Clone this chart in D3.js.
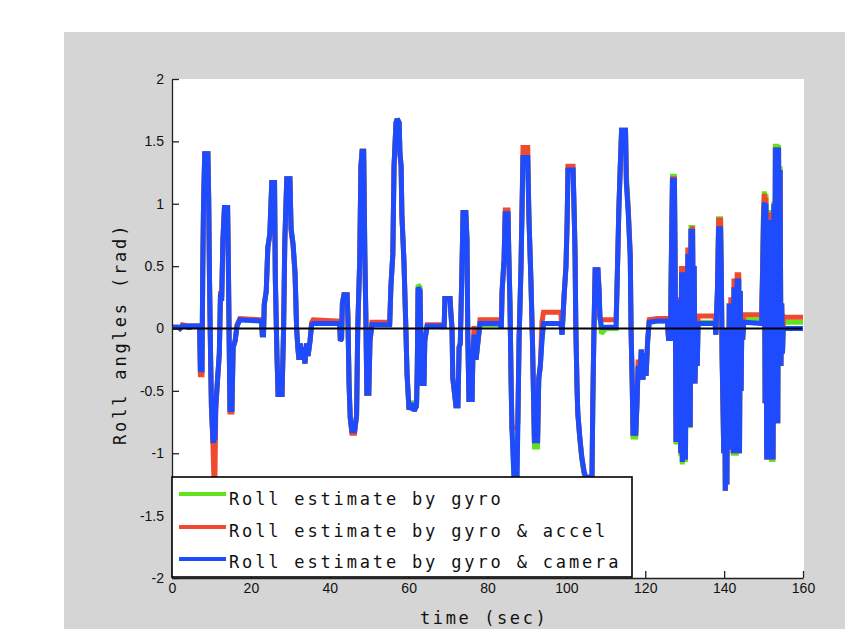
<!DOCTYPE html>
<html>
<head>
<meta charset="utf-8">
<script src="https://cdn.jsdelivr.net/npm/d3@7"></script>
<style>
  html, body { margin: 0; padding: 0; background: #ffffff; }
  svg { display: block; }
</style>
</head>
<body>
<svg id="chart" width="845" height="629"></svg>
<script>
// ---- data -------------------------------------------------------------
const timeSec = [
  0.0, 1.5, 2.0, 2.6, 4.0, 4.3, 4.8, 7.0, 7.2, 7.6,
  7.8, 8.0, 8.3, 9.1, 9.3, 9.5, 9.8, 10.0, 10.4, 10.6,
  10.9, 11.1, 11.6, 12.0, 12.3, 12.6, 12.9, 13.3, 14.1, 14.3,
  14.5, 14.7, 15.2, 15.5, 16.0, 16.5, 17.2, 22.7, 22.9, 23.2,
  23.4, 23.9, 24.3, 24.8, 25.3, 26.0, 26.2, 26.6, 26.9, 27.9,
  28.3, 28.6, 29.1, 29.9, 30.2, 30.7, 31.2, 31.6, 31.9, 32.2,
  32.5, 32.9, 33.3, 33.7, 34.1, 34.5, 35.0, 35.4, 35.8, 42.5,
  42.7, 43.0, 43.2, 43.6, 44.4, 44.6, 44.9, 45.2, 45.6, 46.3,
  46.8, 47.1, 47.6, 47.9, 48.2, 48.6, 48.9, 49.2, 49.4, 49.9,
  50.2, 50.7, 55.2, 55.5, 56.0, 56.3, 56.8, 57.1, 57.6, 57.8,
  58.1, 58.3, 58.8, 59.3, 59.6, 60.1, 60.8, 61.4, 62.0, 62.2,
  62.4, 62.9, 63.1, 63.4, 63.9, 64.1, 64.7, 68.7, 69.0, 69.2,
  70.5, 70.7, 71.0, 71.2, 72.0, 72.5, 72.8, 73.1, 73.5, 73.8,
  74.5, 74.8, 75.0, 75.3, 76.1, 76.3, 76.6, 77.1, 77.6, 78.1,
  83.2, 83.5, 83.7, 84.2, 84.5, 85.2, 85.4, 85.7, 86.0, 86.2,
  86.7, 87.5, 87.7, 88.0, 88.5, 89.0, 90.2, 90.5, 91.0, 91.4,
  91.9, 92.7, 93.0, 93.4, 93.8, 94.2, 98.6, 98.9, 99.4, 99.9,
  100.2, 100.4, 101.7, 102.0, 102.2, 102.4, 102.7, 102.9, 103.4, 103.9,
  104.5, 105.0, 106.5, 106.7, 107.0, 107.3, 108.0, 108.3, 108.5, 108.9,
  110.0, 112.6, 112.9, 113.3, 113.7, 114.0, 115.0, 115.2, 115.7, 116.2,
  116.4, 116.7, 116.9, 117.6, 117.9, 118.2, 118.6, 119.0, 119.4, 119.8,
  120.2, 120.6, 121.0, 123.0, 125.6, 125.9, 126.4, 126.6, 126.9, 127.4,
  127.6, 127.8, 128.0, 128.2, 128.4, 128.6, 128.8, 129.0, 129.2, 129.4,
  129.6, 129.8, 130.0, 130.2, 130.4, 130.6, 130.8, 131.0, 131.2, 131.4,
  131.6, 131.8, 132.0, 132.2, 132.4, 132.6, 132.9, 133.2, 133.4, 137.7,
  137.9, 138.3, 138.6, 139.1, 139.3, 139.5, 139.7, 139.9, 140.1, 140.3,
  140.5, 140.7, 140.9, 141.1, 141.3, 141.5, 141.7, 141.9, 142.1, 142.3,
  142.5, 142.7, 142.9, 143.1, 143.3, 143.5, 143.7, 143.9, 144.1, 144.3,
  144.5, 144.7, 145.0, 149.5, 149.8, 150.0, 150.2, 150.4, 150.6, 150.8,
  151.0, 151.2, 151.4, 151.6, 151.8, 152.0, 152.2, 152.4, 152.6, 152.8,
  153.0, 153.2, 153.4, 153.6, 153.8, 154.0, 154.2, 154.4, 154.6, 154.8,
  155.0, 155.4, 160.0
];

// roll estimate from the gyro alone (rad)
const rollGyro = [
  0.01, 0.01, 0.0, 0.02, 0.02, 0.0, 0.02, 0.02, -0.34, -0.34,
  0.48, 1.0, 1.4, 1.4, 1.05, 0.42, -0.25, -0.63, -0.9, -0.9,
  -0.88, -0.62, -0.38, -0.2, 0.28, 0.22, 0.7, 0.97, 0.97, 0.5,
  -0.1, -0.65, -0.65, -0.15, -0.1, 0.02, 0.07, 0.06, -0.05, -0.05,
  0.19, 0.3, 0.65, 0.76, 1.17, 1.17, 0.4, -0.2, -0.53, -0.53,
  0.0, 0.7, 1.2, 1.2, 0.8, 0.68, 0.45, 0.0, -0.15, -0.25,
  -0.12, -0.25, -0.15, -0.28, -0.12, -0.22, -0.1, 0.03, 0.04, 0.04,
  -0.1, -0.08, 0.2, 0.27, 0.27, 0.1, -0.45, -0.72, -0.82, -0.82,
  -0.7, 0.0, 0.55, 1.3, 1.42, 1.42, 0.6, 0.0, -0.52, -0.52,
  -0.1, 0.03, 0.03, 0.33, 0.6, 1.3, 1.65, 1.68, 1.65, 1.4,
  1.3, 0.9, 0.55, 0.0, -0.36, -0.65, -0.58, -0.66, -0.62, -0.3,
  0.35, 0.33, -0.1, -0.44, -0.44, -0.1, 0.02, 0.02, 0.0, 0.24,
  0.24, 0.12, 0.0, -0.4, -0.62, -0.62, -0.15, -0.12, 0.44, 0.93,
  0.93, 0.71, -0.05, -0.57, -0.57, -0.2, -0.05, -0.25, -0.1, 0.03,
  0.03, 0.0, 0.3, 0.55, 0.92, 0.92, 0.6, 0.2, -0.45, -0.8,
  -1.19, -1.19, -0.75, -0.1, 0.5, 1.37, 1.37, 0.9, 0.4, -0.1,
  -0.95, -0.95, -0.4, -0.3, -0.1, 0.04, 0.04, -0.05, 0.25, 0.5,
  0.87, 1.27, 1.27, 0.9, 0.6, 0.0, -0.47, -0.68, -0.89, -1.05,
  -1.17, -1.22, -1.18, -0.6, 0.0, 0.47, 0.47, 0.3, 0.1, -0.04,
  0.0, 0.0, 0.4, 0.95, 1.33, 1.59, 1.59, 1.25, 0.95, 0.57,
  0.0, -0.45, -0.87, -0.87, -0.6, -0.3, -0.41, -0.17, -0.41, -0.2,
  -0.38, -0.12, 0.05, 0.06, 0.06, -0.08, -0.08, 0.5, 1.22, 1.22,
  0.4, -0.93, 0.15, -0.85, 0.23, -0.5, 0.2, -1.02, 0.45, -1.09,
  0.4, -0.7, 0.45, -1.07, 0.3, -0.79, 0.6, -0.5, 0.6, -0.8,
  0.83, -0.3, 0.83, -0.2, 0.5, -0.44, 0.0, -0.3, 0.05, 0.05,
  -0.05, 0.3, 0.88, 0.88, 0.4, -0.23, -0.6, -1.0, 0.0, -1.3,
  -0.2, -1.25, 0.0, -0.97, 0.2, -0.8, 0.2, -0.97, 0.1, -1.02,
  0.33, -0.9, 0.33, -1.02, 0.4, -0.7, 0.42, -1.0, 0.3, -0.5,
  0.07, -0.09, 0.07, 0.07, 0.55, 0.95, 1.1, -0.6, 1.08, -1.0,
  0.95, -1.05, 0.95, -0.9, 0.95, -1.07, 0.95, -1.07, 1.02, -0.5,
  1.48, -0.76, 1.48, -0.76, 1.47, -0.2, 1.3, -0.3, 0.2, -0.2,
  0.05, 0.05, 0.05
];

// roll estimate fusing gyro and accelerometer (rad)
const rollGyroAccel = [
  0.01, 0.01, 0.0, 0.03, 0.02, 0.0, 0.02, 0.02, -0.37, -0.37,
  0.45, 1.0, 1.4, 1.4, 1.05, 0.4, -0.25, -0.63, -0.95, -1.17,
  -1.17, -0.65, -0.4, -0.2, 0.3, 0.25, 0.7, 0.97, 0.97, 0.5,
  -0.12, -0.67, -0.67, -0.15, -0.1, 0.03, 0.08, 0.07, -0.05, -0.05,
  0.2, 0.3, 0.65, 0.74, 1.17, 1.17, 0.4, -0.2, -0.53, -0.53,
  0.0, 0.68, 1.2, 1.2, 0.78, 0.66, 0.42, 0.0, -0.15, -0.25,
  -0.12, -0.25, -0.15, -0.28, -0.12, -0.22, -0.1, 0.05, 0.07, 0.06,
  -0.1, -0.08, 0.2, 0.27, 0.27, 0.1, -0.45, -0.72, -0.84, -0.84,
  -0.7, 0.0, 0.55, 1.3, 1.42, 1.42, 0.55, 0.02, -0.52, -0.52,
  -0.1, 0.05, 0.05, 0.33, 0.6, 1.3, 1.65, 1.68, 1.65, 1.4,
  1.3, 0.9, 0.55, 0.0, -0.38, -0.65, -0.6, -0.66, -0.62, -0.3,
  0.3, 0.3, -0.1, -0.44, -0.44, -0.1, 0.03, 0.03, 0.0, 0.24,
  0.24, 0.15, 0.02, -0.4, -0.62, -0.62, -0.15, -0.12, 0.44, 0.93,
  0.93, 0.71, -0.05, -0.57, -0.57, -0.2, 0.02, -0.25, -0.1, 0.07,
  0.07, 0.0, 0.3, 0.55, 0.95, 0.95, 0.6, 0.2, -0.45, -0.8,
  -0.8, -0.8, -0.75, -0.1, 0.5, 1.45, 1.45, 0.9, 0.4, -0.1,
  -0.9, -0.9, -0.4, -0.3, 0.05, 0.13, 0.13, -0.05, 0.25, 0.5,
  0.87, 1.3, 1.3, 0.9, 0.6, 0.0, -0.47, -0.68, -0.87, -1.03,
  -1.15, -1.2, -1.18, -0.6, 0.0, 0.47, 0.47, 0.3, 0.08, 0.07,
  0.07, 0.07, 0.4, 0.95, 1.33, 1.59, 1.59, 1.2, 0.95, 0.6,
  0.0, -0.45, -0.84, -0.84, -0.6, -0.25, -0.41, -0.17, -0.41, -0.2,
  -0.38, -0.1, 0.07, 0.08, 0.08, -0.08, -0.08, 0.5, 1.2, 1.2,
  0.45, -0.91, 0.15, -0.85, 0.25, -0.5, 0.2, -1.0, 0.5, -1.07,
  0.45, -0.7, 0.5, -1.05, 0.3, -0.79, 0.65, -0.5, 0.65, -0.79,
  0.8, -0.3, 0.82, -0.2, 0.5, -0.44, 0.0, -0.3, 0.1, 0.1,
  -0.05, 0.3, 0.87, 0.87, 0.4, -0.3, -0.6, -1.0, 0.0, -1.3,
  -0.2, -1.25, 0.0, -0.97, 0.2, -0.8, 0.25, -0.97, 0.1, -1.0,
  0.4, -0.9, 0.4, -1.0, 0.45, -0.7, 0.45, -1.0, 0.3, -0.5,
  0.1, -0.09, 0.11, 0.11, 0.55, 0.95, 1.08, -0.6, 1.05, -1.05,
  0.93, -1.05, 0.9, -0.9, 0.93, -1.05, 0.9, -1.05, 0.98, -0.5,
  1.45, -0.76, 1.45, -0.76, 1.45, -0.2, 1.27, -0.3, 0.2, -0.2,
  0.1, 0.09, 0.09
];

// roll estimate fusing gyro and camera (rad)
const rollGyroCamera = [
  0.01, 0.01, 0.0, 0.02, 0.02, 0.0, 0.02, 0.02, -0.33, -0.33,
  0.48, 1.0, 1.4, 1.4, 1.05, 0.42, -0.25, -0.63, -0.9, -0.9,
  -0.88, -0.62, -0.38, -0.2, 0.28, 0.22, 0.7, 0.97, 0.97, 0.5,
  -0.1, -0.65, -0.65, -0.15, -0.1, 0.02, 0.07, 0.06, -0.05, -0.05,
  0.19, 0.3, 0.65, 0.76, 1.17, 1.17, 0.4, -0.2, -0.53, -0.53,
  0.0, 0.7, 1.2, 1.2, 0.8, 0.68, 0.45, 0.0, -0.15, -0.25,
  -0.12, -0.25, -0.15, -0.28, -0.12, -0.22, -0.1, 0.03, 0.04, 0.04,
  -0.1, -0.08, 0.2, 0.27, 0.27, 0.1, -0.45, -0.72, -0.82, -0.82,
  -0.7, 0.0, 0.55, 1.3, 1.42, 1.42, 0.6, 0.0, -0.52, -0.52,
  -0.1, 0.03, 0.03, 0.33, 0.6, 1.3, 1.65, 1.68, 1.65, 1.4,
  1.3, 0.9, 0.55, 0.0, -0.36, -0.65, -0.6, -0.66, -0.62, -0.3,
  0.33, 0.3, -0.1, -0.44, -0.44, -0.1, 0.02, 0.02, 0.0, 0.24,
  0.24, 0.12, 0.0, -0.4, -0.62, -0.62, -0.15, -0.12, 0.44, 0.93,
  0.93, 0.71, -0.05, -0.57, -0.57, -0.2, -0.05, -0.25, -0.1, 0.04,
  0.04, 0.0, 0.3, 0.55, 0.92, 0.92, 0.6, 0.2, -0.45, -0.8,
  -1.19, -1.19, -0.75, -0.1, 0.5, 1.37, 1.37, 0.9, 0.4, -0.1,
  -0.9, -0.9, -0.4, -0.3, -0.1, 0.04, 0.04, -0.05, 0.25, 0.5,
  0.87, 1.27, 1.27, 0.9, 0.6, 0.0, -0.47, -0.68, -0.87, -1.03,
  -1.15, -1.2, -1.18, -0.6, 0.0, 0.47, 0.47, 0.3, 0.1, 0.01,
  0.01, 0.01, 0.4, 0.95, 1.33, 1.59, 1.59, 1.17, 0.92, 0.57,
  0.0, -0.45, -0.84, -0.84, -0.6, -0.3, -0.41, -0.17, -0.41, -0.2,
  -0.38, -0.1, 0.05, 0.06, 0.06, -0.08, -0.08, 0.5, 1.19, 1.19,
  0.4, -0.91, 0.15, -0.85, 0.23, -0.5, 0.2, -1.0, 0.45, -1.07,
  0.4, -0.7, 0.45, -1.05, 0.3, -0.79, 0.6, -0.5, 0.6, -0.79,
  0.8, -0.3, 0.8, -0.2, 0.5, -0.44, 0.0, -0.3, 0.04, 0.04,
  -0.05, 0.3, 0.8, 0.8, 0.4, -0.23, -0.6, -1.0, 0.0, -1.3,
  -0.2, -1.25, 0.0, -0.97, 0.2, -0.8, 0.2, -0.97, 0.1, -1.0,
  0.33, -0.9, 0.33, -1.0, 0.4, -0.7, 0.4, -1.0, 0.3, -0.5,
  0.05, -0.09, 0.05, 0.04, 0.5, 0.9, 1.01, -0.6, 1.0, -1.05,
  0.87, -1.05, 0.85, -0.9, 0.87, -1.05, 0.87, -1.05, 1.0, -0.5,
  1.45, -0.76, 1.45, -0.76, 1.45, -0.2, 1.27, -0.3, 0.2, -0.2,
  0.0, 0.0, 0.0
];

const seriesLabels = [
  "Roll estimate by gyro",
  "Roll estimate by gyro & accel",
  "Roll estimate by gyro & camera"
];

const xTicks = [0, 20, 40, 60, 80, 100, 120, 140, 160];
const xTickLabels = ["0", "20", "40", "60", "80", "100", "120", "140", "160"];
const yTicks = [-2, -1.5, -1, -0.5, 0, 0.5, 1, 1.5, 2];
const yTickLabels = ["-2", "-1.5", "-1", "-0.5", "0", "0.5", "1", "1.5", "2"];

const xLabel = "time (sec)";
const yLabel = "Roll angles (rad)";

// ---- drawing ----------------------------------------------------------
const W = 845, H = 629;
const plot = { left: 172, right: 803, top: 79, bottom: 578 };
const colors = ["#62e21a", "#ef4a2e", "#1f4bff"];
const monoFont = "'DejaVu Sans Mono', 'Liberation Mono', monospace";
const sansFont = "'Liberation Sans', Arial, Helvetica, sans-serif";

const svg = d3.select("#chart");

// figure background
svg.append("rect").attr("x", 64).attr("y", 32)
  .attr("width", W - 64).attr("height", H - 32).attr("fill", "#d5d5d5");

// axes area
svg.append("rect").attr("x", plot.left).attr("y", plot.top)
  .attr("width", plot.right - plot.left + 1).attr("height", plot.bottom - plot.top)
  .attr("fill", "#ffffff");

const x = d3.scaleLinear().domain([0, 160]).range([plot.left, plot.right]);
const y = d3.scaleLinear().domain([-2, 2]).range([plot.bottom, plot.top]);

svg.append("clipPath").attr("id", "plotClip")
  .append("rect").attr("x", plot.left).attr("y", plot.top - 2)
  .attr("width", plot.right - plot.left + 1).attr("height", plot.bottom - plot.top + 2);

const seriesValues = [rollGyro, rollGyroAccel, rollGyroCamera];
const n = Math.min(timeSec.length, rollGyro.length, rollGyroAccel.length, rollGyroCamera.length);

const line = d3.line()
  .x(d => x(d.t))
  .y(d => y(d.v));

const traces = svg.append("g").attr("clip-path", "url(#plotClip)");
seriesValues.forEach((vals, i) => {
  const pts = d3.range(n).map(k => ({ t: timeSec[k], v: vals[k] }));
  traces.append("path")
    .datum(pts)
    .attr("d", line)
    .attr("fill", "none")
    .attr("stroke", colors[i])
    .attr("stroke-width", 5)
    .attr("stroke-linejoin", "miter")
    .attr("stroke-miterlimit", 1.5)
    .attr("stroke-linecap", "butt");
});

// zero reference line
svg.append("line")
  .attr("x1", x(0)).attr("x2", x(160) - 1)
  .attr("y1", y(0)).attr("y2", y(0))
  .attr("stroke", "#000").attr("stroke-width", 2);

// y axis (ticks point into the plot)
const yAxis = d3.axisLeft(y)
  .tickValues(yTicks)
  .tickFormat((d, i) => yTickLabels[i])
  .tickSizeInner(-7).tickSizeOuter(0).tickPadding(8);
const gy = svg.append("g").attr("transform", `translate(${plot.left},0)`).call(yAxis);

// x axis
const xAxis = d3.axisBottom(x)
  .tickValues(xTicks)
  .tickFormat((d, i) => xTickLabels[i])
  .tickSizeInner(-7).tickSizeOuter(0).tickPadding(5);
const gx = svg.append("g").attr("transform", `translate(0,${plot.bottom})`).call(xAxis);

[gx, gy].forEach(g => {
  g.select(".domain").attr("stroke", "#222").attr("stroke-width", 1.3);
  g.selectAll(".tick line").attr("stroke", "#222").attr("stroke-width", 1.3);
  g.selectAll(".tick text")
    .attr("fill", "#111")
    .style("font-family", sansFont)
    .style("font-size", "14px");
});

// legend
const legend = svg.append("g");
legend.append("rect")
  .attr("x", 172).attr("y", 477).attr("width", 460).attr("height", 100)
  .attr("fill", "#ffffff").attr("stroke", "#000").attr("stroke-width", 1.6);
const rowLineY = [494, 527, 559];
const rowTextY = [505, 537, 568];
seriesLabels.forEach((label, i) => {
  legend.append("line")
    .attr("x1", 179).attr("x2", 226)
    .attr("y1", rowLineY[i]).attr("y2", rowLineY[i])
    .attr("stroke", colors[i]).attr("stroke-width", 4);
  legend.append("text")
    .attr("x", 229).attr("y", rowTextY[i])
    .attr("fill", "#111")
    .style("font-family", monoFont)
    .style("font-size", "17px")
    .style("letter-spacing", "2.84px")
    .text(label);
});

// axis titles
svg.append("text")
  .attr("x", 420).attr("y", 624)
  .attr("fill", "#111")
  .style("font-family", monoFont)
  .style("font-size", "17px")
  .style("letter-spacing", "2.6px")
  .text(xLabel);

svg.append("text")
  .attr("transform", "translate(126,445) rotate(-90)")
  .attr("fill", "#111")
  .style("font-family", monoFont)
  .style("font-size", "17px")
  .style("letter-spacing", "2.84px")
  .text(yLabel);
</script>
</body>
</html>
